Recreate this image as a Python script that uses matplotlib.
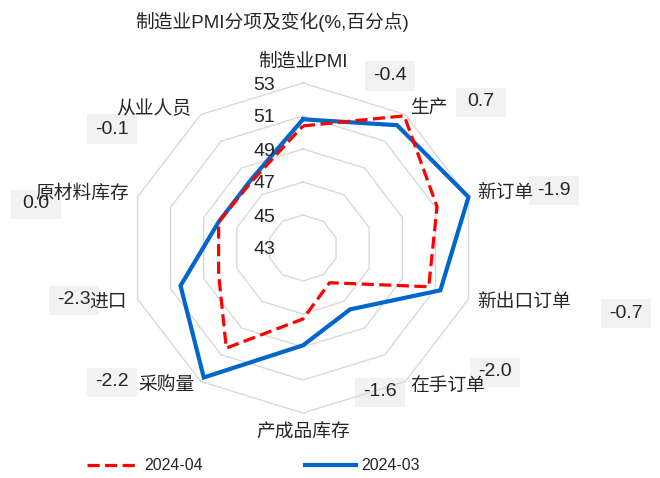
import numpy as np
import matplotlib
matplotlib.use("Agg")
import matplotlib.pyplot as plt
from matplotlib import transforms
from matplotlib.patches import Rectangle
from matplotlib.lines import Line2D

plt.rcParams['font.family'] = ['Liberation Sans', 'Noto Sans CJK SC']

# ---- data ----
categories = ['制造业PMI', '生产', '新订单', '新出口订单', '在手订单',
              '产成品库存', '采购量', '进口', '原材料库存', '从业人员']
apr_2024 = [50.4, 52.9, 51.1, 50.6, 45.6, 47.3, 50.5, 48.1, 48.1, 48.0]
mar_2024 = [50.8, 52.2, 53.0, 51.3, 47.6, 48.9, 52.7, 50.4, 48.1, 48.1]
series_names = ['2024-04', '2024-03']
r_ticks = [43, 45, 47, 49, 51, 53]

changes = [round(a - m, 1) + 0.0 for a, m in zip(apr_2024, mar_2024)]

# ---- layout (pixels) ----
W, H = 660, 478
TXT = '#262626'
RED = '#FF0000'
BLUE = '#0066CC'
GRID = '#D9D9D9'

# category label placement: (ha, dx, dy) offsets from the outer vertex
cat_layout = [('center', 0, 21), ('left', 5, 6), ('left', 9, 4), ('left', 9, -3),
              ('left', 5, -5), ('center', 0, -20), ('right', -6, -5),
              ('right', -11, -3), ('right', -8, 3), ('right', -9, 5)]
# change-value boxes: centre (x, y) measured from the top-left corner
box_centres = [(389.5, 76), (481, 102), (554, 190.5), (626, 313.5), (495, 372),
               (380, 392), (112, 382), (74, 300), (36, 204), (111.5, 129)]
box_w, box_h = 50, 29

fig = plt.figure(figsize=(W / 100, H / 100), dpi=100)
ax = fig.add_axes([129 / W, 1 - 413 / H, 348 / W, 330 / H], projection='polar')
ax.set_aspect('auto')
ax.set_theta_zero_location('N')
ax.set_theta_direction(-1)
ax.set_ylim(r_ticks[0], r_ticks[-1])
ax.grid(False)
ax.set_xticks([])
ax.set_yticks([])
ax.spines['polar'].set_visible(False)
ax.patch.set_visible(False)

n = len(categories)
theta = np.linspace(0, 2 * np.pi, n, endpoint=False)
closed = np.append(theta, theta[0])

# decagonal grid rings
for lev in r_ticks[1:]:
    ax.plot(closed, [lev] * (n + 1), color=GRID, lw=1.0, zorder=1, clip_on=False)

# series
ax.plot(closed, mar_2024 + mar_2024[:1], color=BLUE, lw=3.0, zorder=3,
        solid_joinstyle='miter', clip_on=False)
ax.plot(closed, apr_2024 + apr_2024[:1], color=RED, lw=2.3, dashes=(3.8, 1.7),
        zorder=4, clip_on=False)

# radial tick labels along the top axis
tick_tr = transforms.offset_copy(ax.transData, fig=fig, x=-28, y=0, units='dots')
for lev in r_ticks:
    ax.text(0, lev, str(lev), transform=tick_tr, ha='right', va='center_baseline',
            fontsize=14, color=TXT, zorder=6)

# category labels
for ang, name, (ha, dx, dy) in zip(theta, categories, cat_layout):
    tr = transforms.offset_copy(ax.transData, fig=fig, x=dx, y=dy, units='dots')
    ax.text(ang, r_ticks[-1], name, transform=tr, ha=ha, va='center',
            fontsize=13.5, color=TXT, zorder=7)

# change-value boxes (drawn beneath the chart so labels stay on top)
for (cx, cy), val in zip(box_centres, changes):
    fig.patches.append(Rectangle(((cx - box_w / 2) / W, 1 - (cy + box_h / 2) / H),
                                 box_w / W, box_h / H, transform=fig.transFigure,
                                 facecolor='#F2F2F2', edgecolor='none', zorder=-1))
    fig.text(cx / W, 1 - cy / H, f'{val:.1f}', ha='center', va='center',
             fontsize=14, color=TXT, zorder=8)

# title
fig.text(272 / W, 1 - 22 / H, '制造业PMI分项及变化(%,百分点)', ha='center',
         va='center', fontsize=13.5, color=TXT)

# legend
handles = [Line2D([], [], color=RED, lw=2.3, dashes=(3.8, 1.7)),
           Line2D([], [], color=BLUE, lw=3.0)]
fig.legend(handles, series_names, loc='center', bbox_to_anchor=(253.5 / W, 1 - 466 / H),
           ncol=2, frameon=False, fontsize=11.5, handlelength=3.2, handletextpad=0.35,
           columnspacing=6.4, labelcolor=TXT)

fig.savefig('out.png', dpi=100)
